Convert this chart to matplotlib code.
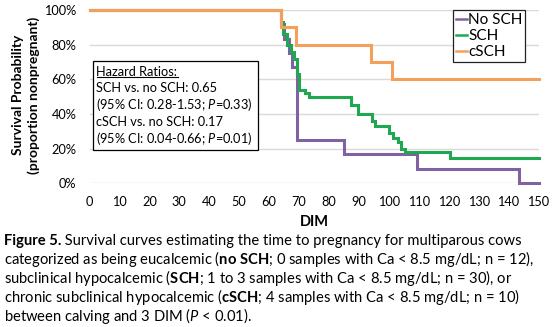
import matplotlib
matplotlib.use("Agg")
import matplotlib.pyplot as plt
from matplotlib.patches import Rectangle
from matplotlib.lines import Line2D

plt.rcParams['font.family'] = ['Lato', 'DejaVu Sans']
plt.rcParams['mathtext.fontset'] = 'custom'
plt.rcParams['mathtext.rm'] = 'Lato'
plt.rcParams['mathtext.it'] = 'Lato:italic'
plt.rcParams['mathtext.bf'] = 'Lato:bold'

# ---- data (DIM of events, survival % after event) ----
nosch_t = [0, 63.9, 65.0, 66.5, 67.5, 69.3, 85.0, 109.5, 143.5, 150]
nosch_s = [100, 92, 83.3, 75, 67, 25, 16.7, 8.3, 0, 0]

sch_t = [0, 63.9, 64.8, 65.9, 67.2, 68.4, 69.2, 70.1, 72.0, 73.4, 87.5, 89.8,
         94.5, 95.3, 100.0, 101.5, 103.0, 104.2, 105.3, 120.6, 150]
sch_s = [100, 93, 86, 80, 75.5, 72, 63, 54, 52, 50, 45, 40,
         36, 33, 29, 26, 24, 20, 18, 14.5, 14.5]

csch_t = [0, 63.9, 69.0, 94.0, 101.0, 150]
csch_s = [100, 90, 80, 70, 60, 60]

series_names = ["No SCH", "SCH", "cSCH"]
series_colors = ["#7E62A1", "#1FA84F", "#F5A05A"]

x_ticks = list(range(0, 151, 10))
y_ticks = [0, 20, 40, 60, 80, 100]
y_ticklabels = ["0%", "20%", "40%", "60%", "80%", "100%"]

W, H = 555, 327
fig = plt.figure(figsize=(W / 100, H / 100), dpi=100)

def fx(px):
    return px / W

def fy(py):
    return 1 - py / H

x0, x1 = 89.5, 538.5
yt, yb = 10.0, 183.3
ax = fig.add_axes([fx(x0), fy(yb), fx(x1) - fx(x0), fy(yt) - fy(yb)])
ax.set_xlim(0, 150)
ax.set_ylim(0, 100)
for s in ax.spines.values():
    s.set_visible(False)
ax.set_yticks(y_ticks)
ax.set_yticklabels(y_ticklabels)
ax.set_xticks(x_ticks)
ax.tick_params(axis='both', length=0, labelsize=9.2, colors='black')
ax.tick_params(axis='y', pad=9.5)
ax.tick_params(axis='x', pad=9.0)
ax.yaxis.grid(True, color='#D9D9D9', linewidth=1.0)
ax.set_axisbelow(True)

handles = []
for t, s, name, c in zip([nosch_t, sch_t, csch_t], [nosch_s, sch_s, csch_s],
                         series_names, series_colors):
    ln, = ax.plot(t, s, drawstyle='steps-post', color=c, linewidth=2.2,
                  clip_on=False, label=name, solid_joinstyle='miter')
    handles.append(ln)

leg = ax.legend(handles=handles, loc='upper left',
                bbox_to_anchor=(fx(452.7), fy(10.2)), bbox_transform=fig.transFigure,
                frameon=True, fancybox=False, edgecolor='#222222', framealpha=1,
                fontsize=11, handlelength=0.75, handletextpad=0.05,
                labelspacing=0.12, borderpad=0.2, borderaxespad=0)
leg.get_frame().set_linewidth(0.9)
for h in leg.legend_handles:
    h.set_linewidth(1.8)

# Axis titles
fig.text(fx(314), fy(221.7), "DIM", ha='center', va='center',
         fontsize=10.5, fontweight='bold')
fig.text(fx(26), fy(95), "Survival Probability\n(proportion nonpregnant)",
         ha='center', va='center', rotation=90, fontsize=10,
         fontweight='bold', linespacing=1.3, multialignment='center')

# Hazard ratio box
fig.patches.append(Rectangle((fx(93.3), fy(150)), fx(258.3) - fx(93.3), fy(61) - fy(150),
                             transform=fig.transFigure, fill=True, facecolor='white',
                             edgecolor='black', linewidth=0.9, zorder=5))
hr_lines = ["Hazard Ratios:",
            "SCH vs. no SCH: 0.65",
            r"(95% CI: 0.28-1.53; $\mathit{P}$=0.33)",
            "cSCH vs. no SCH: 0.17",
            r"(95% CI: 0.04-0.66; $\mathit{P}$=0.01)"]
hr_base = [75.5, 92.5, 109.3, 126.2, 143.0]
hr_texts = []
for txt, b in zip(hr_lines, hr_base):
    tt = fig.text(fx(96.5), fy(b), txt, ha='left', va='baseline', fontsize=9.2, zorder=6)
    hr_texts.append(tt)

# Caption
cap_head = "Figure 5."
cap_lines = [" Survival curves estimating the time to pregnancy for multiparous cows",
             r"categorized as being eucalcemic ($\mathbf{no\ SCH}$; 0 samples with Ca < 8.5 mg/dL; n = 12),",
             r"subclinical hypocalcemic ($\mathbf{SCH}$; 1 to 3 samples with Ca < 8.5 mg/dL; n = 30), or",
             r"chronic subclinical hypocalcemic ($\mathbf{cSCH}$; 4 samples with Ca < 8.5 mg/dL; n = 10)",
             r"between calving and 3 DIM ($\mathit{P}$ < 0.01)."]
cap_base = [245, 264, 283, 302, 321]
head = fig.text(fx(3.5), fy(cap_base[0]), cap_head, ha='left', va='baseline',
                fontsize=10, fontweight='bold')
cap_texts = [fig.text(fx(3.5), fy(b), txt, ha='left', va='baseline', fontsize=10)
             for txt, b in zip(cap_lines, cap_base)]

fig.canvas.draw()
r = fig.canvas.get_renderer()
wh = head.get_window_extent(r).width
w1 = cap_texts[0].get_window_extent(r).width
scale = (520 - 3.5) / (wh + w1)
head.set_fontsize(10 * scale)
for t in cap_texts:
    t.set_fontsize(10 * scale)
fig.canvas.draw()
wh = head.get_window_extent(r).width
cap_texts[0].set_x(fx(3.5 + wh))

# underline "Hazard Ratios:"
bb = hr_texts[0].get_window_extent(r)
uy = fy(77.5)
fig.lines.append(Line2D([bb.x0 / W, bb.x1 / W], [uy, uy], transform=fig.transFigure,
                        color='black', linewidth=0.8, zorder=7))

fig.savefig("out.png", dpi=100)
